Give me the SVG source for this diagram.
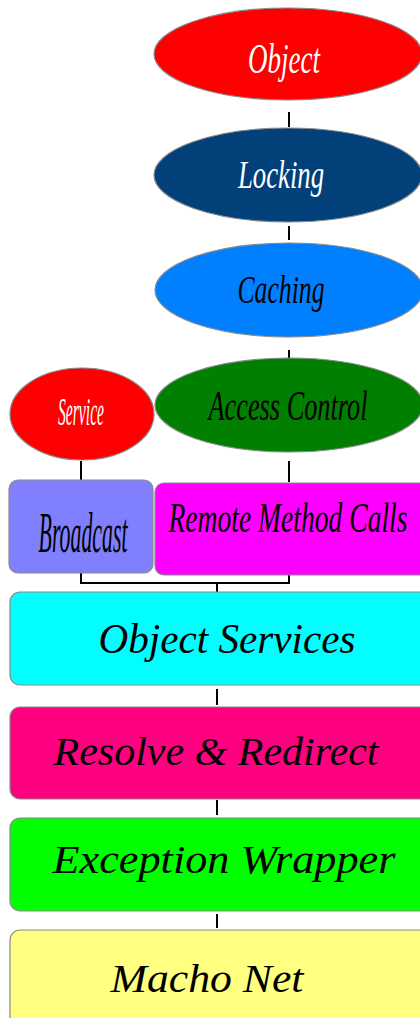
<svg xmlns="http://www.w3.org/2000/svg" width="420" height="1018" viewBox="0 0 420 1018">
<style>
.sh{stroke:#8a8a8a;stroke-width:1.2}
.t{font-family:"Liberation Serif","DejaVu Serif",serif;font-style:italic;text-anchor:middle}
.w{fill:#ffffff}
.k{fill:#000000}
.c{stroke:#000;stroke-width:2;fill:none}
</style>
<rect width="420" height="1018" fill="#ffffff"/>
<g id="connectors">
<line class="c" x1="289" y1="112" x2="289" y2="127"/>
<line class="c" x1="289" y1="226" x2="289" y2="240"/>
<line class="c" x1="289" y1="350" x2="289" y2="358"/>
<line class="c" x1="81" y1="461" x2="81" y2="480"/>
<line class="c" x1="289" y1="461" x2="289" y2="482"/>
<polyline class="c" points="81,573 81,583 289,583 289,575"/>
<line class="c" x1="217" y1="583" x2="217" y2="592"/>
<line class="c" x1="217" y1="689" x2="217" y2="705"/>
<line class="c" x1="217" y1="800" x2="217" y2="815"/>
<line class="c" x1="217" y1="914" x2="217" y2="928"/>
</g>
<g id="object">
<ellipse class="sh" cx="288" cy="54" rx="134" ry="46" fill="#ff0000"/>
<text class="t w" transform="translate(284,73) scale(0.64,1)" font-size="42" textLength="112.5" lengthAdjust="spacingAndGlyphs">Object</text>
</g>
<g id="locking">
<ellipse class="sh" cx="288" cy="175" rx="134" ry="47" fill="#02407a"/>
<text class="t w" transform="translate(281,188) scale(0.67,1)" font-size="40" textLength="128.4" lengthAdjust="spacingAndGlyphs">Locking</text>
</g>
<g id="caching">
<ellipse class="sh" cx="289" cy="290" rx="134" ry="47" fill="#0080ff"/>
<text class="t k" transform="translate(281,303) scale(0.64,1)" font-size="40" textLength="136" lengthAdjust="spacingAndGlyphs">Caching</text>
</g>
<g id="access-control">
<ellipse class="sh" cx="289" cy="405" rx="134" ry="47" fill="#007f00"/>
<text class="t k" transform="translate(288,420) scale(0.62,1)" font-size="42" textLength="256.5" lengthAdjust="spacingAndGlyphs">Access Control</text>
</g>
<g id="service">
<ellipse class="sh" cx="82" cy="414" rx="72" ry="46" fill="#ff0000"/>
<text class="t w" transform="translate(81,425) scale(0.39,1)" font-size="40" textLength="118" lengthAdjust="spacingAndGlyphs">Service</text>
</g>
<g id="broadcast">
<rect class="sh" x="9" y="480" width="144" height="93" rx="9" fill="#8080ff"/>
<text class="t k" transform="translate(83,552) scale(0.39,1)" font-size="56" textLength="228" lengthAdjust="spacingAndGlyphs">Broadcast</text>
</g>
<g id="remote-method-calls">
<rect class="sh" x="155" y="483" width="275" height="92" rx="9" fill="#ff00ff"/>
<text class="t k" transform="translate(288,532) scale(0.64,1)" font-size="42" textLength="373.4" lengthAdjust="spacingAndGlyphs">Remote Method Calls</text>
</g>
<g id="object-services">
<rect class="sh" x="10" y="592" width="420" height="93" rx="10" fill="#00ffff"/>
<text class="t k" x="227" y="653" font-size="42" textLength="257" lengthAdjust="spacingAndGlyphs">Object Services</text>
</g>
<g id="resolve-redirect">
<rect class="sh" x="10" y="707" width="420" height="92" rx="10" fill="#ff0080"/>
<text class="t k" x="216" y="765" font-size="40" textLength="325" lengthAdjust="spacingAndGlyphs">Resolve &amp; Redirect</text>
</g>
<g id="exception-wrapper">
<rect class="sh" x="10" y="818" width="420" height="93" rx="10" fill="#00ff00"/>
<text class="t k" x="224" y="873" font-size="40" textLength="343" lengthAdjust="spacingAndGlyphs">Exception Wrapper</text>
</g>
<g id="macho-net">
<rect class="sh" x="10" y="930" width="420" height="100" rx="10" fill="#ffff80"/>
<text class="t k" x="207" y="992" font-size="40" textLength="193" lengthAdjust="spacingAndGlyphs">Macho Net</text>
</g>
</svg>
